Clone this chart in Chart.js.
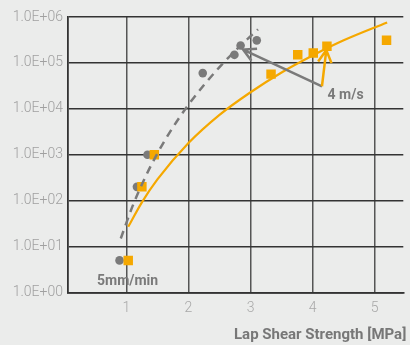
<!DOCTYPE html>
<html>
<head>
<meta charset="utf-8">
<script src="https://cdn.jsdelivr.net/npm/chart.js@4.4.0/dist/chart.umd.min.js"></script>
<style>
  html, body { margin: 0; padding: 0; background: #ebeceb; }
  #wrap { width: 410px; height: 345px; }
</style>
</head>
<body>
<div id="wrap"><canvas id="myChart" width="410" height="345"></canvas></div>
<script>
// measured points (Lap shear strength vs. rate)
var grayX = [0.89, 1.17, 1.34, 2.23, 2.74, 2.84, 3.1];
var grayY = [5, 200, 1000, 60000, 150000, 240000, 310000];
var orangeX = [1.03, 1.25, 1.45, 3.33, 3.76, 4.01, 4.23, 5.19];
var orangeY = [5, 200, 1000, 57000, 150000, 165000, 230000, 310000];

// trend lines
var grayTrendX = [0.91, 1.1, 1.3, 1.5, 1.75, 2.0, 2.25, 2.5, 2.75, 3.12];
var grayTrendY = [15, 76, 315, 1070, 3960, 12300, 33000, 81000, 182000, 540000];
var orangeTrendX = [1.03, 1.25, 1.5, 2.0, 2.5, 3.0, 3.5, 4.0, 4.5, 5.2];
var orangeTrendY = [27, 92, 290, 1800, 7400, 23000, 62000, 145000, 310000, 760000];

// axis ticks
var xTicks = [1, 2, 3, 4, 5];
var yTicks = [1, 10, 100, 1000, 10000, 100000, 1000000];
var yTickLabels = ['1.0E+00', '1.0E+01', '1.0E+02', '1.0E+03', '1.0E+04', '1.0E+05', '1.0E+06'];

var xTitle = 'Lap Shear Strength [MPa]';
var speedLabel = '4 m/s';
var slowLabel = '5mm/min';

var GRAY = '#7a7a7a';
var ORANGE = '#f5a800';

function pts(xs, ys) {
    return xs.map(function(x, i) { return { x: x, y: ys[i] }; });
}

function arrow(ctx, x0, y0, x1, y1, color) {
    var ang = Math.atan2(y1 - y0, x1 - x0);
    var len = 14;
    ctx.strokeStyle = color;
    ctx.lineWidth = 2.5;
    ctx.beginPath();
    ctx.moveTo(x0, y0);
    ctx.lineTo(x1, y1);
    ctx.moveTo(x1 - len * Math.cos(ang - 0.5), y1 - len * Math.sin(ang - 0.5));
    ctx.lineTo(x1, y1);
    ctx.lineTo(x1 - len * Math.cos(ang + 0.5), y1 - len * Math.sin(ang + 0.5));
    ctx.stroke();
}

// arrows, notes and the x title drawn on top
var notesPlugin = {
    id: 'notes',
    afterDatasetsDraw: function(chart) {
        var ctx = chart.ctx;
        var xs = chart.scales.x, ys = chart.scales.y;
        var tx = xs.getPixelForValue(4.15), ty = ys.getPixelForValue(31000);
        ctx.save();
        ctx.lineCap = 'butt';
        arrow(ctx, tx, ty, xs.getPixelForValue(2.88), ys.getPixelForValue(195000), GRAY);
        arrow(ctx, tx, ty, xs.getPixelForValue(4.22), ys.getPixelForValue(190000), ORANGE);

        ctx.fillStyle = GRAY;
        ctx.font = 'bold 14px Roboto';
        ctx.textBaseline = 'middle';
        ctx.textAlign = 'left';
        ctx.fillText(speedLabel, xs.getPixelForValue(4.24), ys.getPixelForValue(20000));
        ctx.fillText(slowLabel, 97, 281);

        ctx.fillStyle = '#777777';
        ctx.font = 'bold 15px Roboto';
        ctx.fillText(xTitle, 234, 335);
        ctx.restore();
    }
};

var ctx = document.getElementById('myChart').getContext('2d');
var myChart = new Chart(ctx, {
    type: 'scatter',
    data: {
        datasets: [
            {
                data: pts(grayTrendX, grayTrendY),
                showLine: true,
                borderColor: GRAY,
                borderWidth: 2.5,
                borderDash: [8, 6],
                pointRadius: 0,
                cubicInterpolationMode: 'monotone'
            },
            {
                data: pts(orangeX, orangeY),
                pointStyle: 'rect',
                pointRadius: 6.7,
                backgroundColor: ORANGE,
                borderWidth: 0
            },
            {
                data: pts(grayX, grayY),
                pointStyle: 'circle',
                pointRadius: 4.3,
                backgroundColor: GRAY,
                borderWidth: 0
            },
            {
                data: pts(orangeTrendX, orangeTrendY),
                showLine: true,
                borderColor: ORANGE,
                borderWidth: 2.2,
                pointRadius: 0,
                cubicInterpolationMode: 'monotone'
            }
        ]
    },
    options: {
        responsive: false,
        animation: false,
        layout: { padding: { top: 17, right: 0, left: 0, bottom: 0 } },
        plugins: {
            legend: { display: false },
            tooltip: { enabled: false }
        },
        scales: {
            x: {
                type: 'linear',
                min: 0.06,
                max: 5.46,
                afterBuildTicks: function(scale) {
                    scale.ticks = xTicks.map(function(v) { return { value: v }; });
                },
                afterFit: function(scale) { scale.height = 52.5; },
                grid: { color: '#555555', lineWidth: 1.5, drawTicks: false },
                border: { color: '#333333', width: 1.8 },
                ticks: {
                    color: '#a8a8a8',
                    font: { family: 'Roboto', size: 14, weight: '300' },
                    padding: 8,
                    maxRotation: 0
                }
            },
            y: {
                type: 'logarithmic',
                min: 1,
                max: 1000000,
                afterBuildTicks: function(scale) {
                    scale.ticks = yTicks.map(function(v) { return { value: v }; });
                },
                afterFit: function(scale) { scale.width = 68; },
                grid: { color: '#333333', lineWidth: 1.5, drawTicks: false },
                border: { color: '#333333', width: 1.8 },
                ticks: {
                    color: '#a0a0a0',
                    font: { family: 'Roboto', size: 14, weight: '300' },
                    padding: 5,
                    callback: function(value, index) { return yTickLabels[index]; }
                }
            }
        }
    },
    plugins: [notesPlugin]
});
</script>
</body>
</html>
